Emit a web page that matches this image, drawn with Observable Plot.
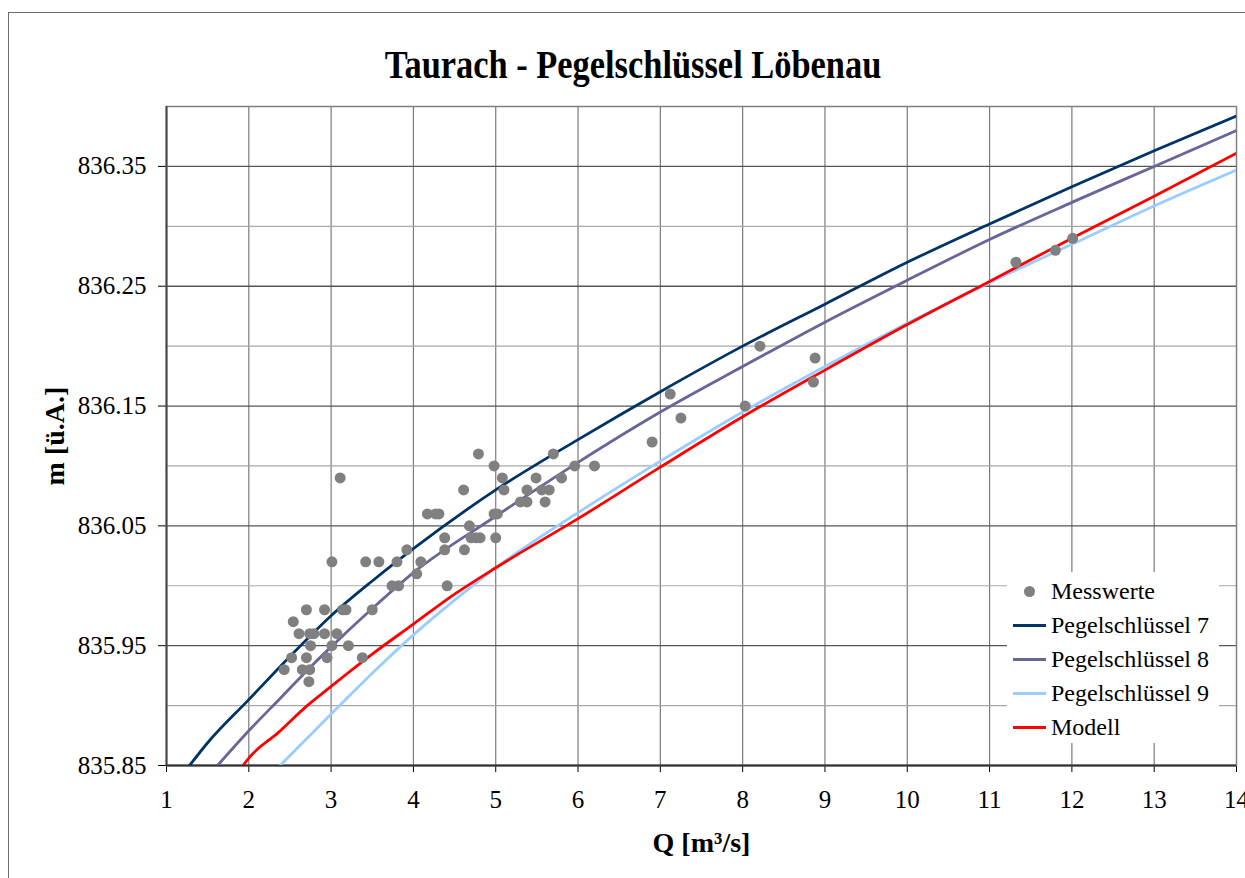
<!DOCTYPE html>
<html>
<head>
<meta charset="utf-8">
<script src="https://cdn.jsdelivr.net/npm/d3@7"></script>
<script src="https://cdn.jsdelivr.net/npm/@observablehq/plot@0.6"></script>
<style>
  body { margin: 0; background: #fff; }
  #wrap { position: relative; width: 1245px; height: 878px; overflow: hidden; background: #fff;
          font-family: "Liberation Serif", "Times New Roman", serif; }
  #border { position: absolute; left: 8px; top: 12px; width: 1400px; height: 1000px;
            border: 1.5px solid #6b6b6b; box-sizing: border-box; }
  #chart { position: absolute; left: 0; top: 0; }
  #title { position: absolute; left: 0; width: 1266px; top: 45px; line-height: 40px; text-align: center;
           font-weight: bold; font-size: 40px; transform: scaleX(0.86); transform-origin: 633px 0; color: #000; white-space: nowrap; }
  #legend { position: absolute; left: 1007px; top: 572px; width: 212px; height: 171px; background: #fff; }
  #legend .row { position: absolute; left: 0; height: 34px; display: flex; align-items: center; font-size: 24px; color: #000; white-space: nowrap; }
  #legend .sym { width: 44px; height: 34px; position: relative; }
  #legend .ln { position: absolute; left: 6px; width: 33px; top: 15.5px; height: 3px; }
  #legend .dt { position: absolute; left: 17px; top: 11.5px; width: 11px; height: 11px; border-radius: 50%; }
  svg text { font-family: "Liberation Serif", "Times New Roman", serif; }
  svg g[aria-label="x-axis label"] text, svg g[aria-label="y-axis label"] text { font-weight: bold; font-size: 28px; }
</style>
</head>
<body>
<div id="wrap">
  <div id="border"></div>
  <div id="chart"></div>
  <div id="title">Taurach - Pegelschlüssel Löbenau</div>
  <div id="legend"></div>
</div>
<script>
// ---- Data ----
const titleText = "Taurach - Pegelschlüssel Löbenau";
const xLabel = "Q [m³/s]";
const yLabel = "m [ü.A.]";
const xTicks = [1, 2, 3, 4, 5, 6, 7, 8, 9, 10, 11, 12, 13, 14];
const yTicks = [835.85, 835.95, 836.05, 836.15, 836.25, 836.35];
const yGridMinor = [835.90, 836.00, 836.10, 836.20, 836.30];

// Messwerte (measured points)
const messQ = [2.43, 2.52, 2.54, 2.61, 2.65, 2.70, 2.70, 2.73, 2.74, 2.74, 2.75, 2.79, 2.92, 2.92, 2.95,
  3.01, 3.01, 3.07, 3.11, 3.14, 3.18, 3.21, 3.38, 3.42, 3.50, 3.58, 3.74, 3.82, 3.80, 3.92,
  4.04, 4.09, 4.17, 4.27, 4.31, 4.38, 4.38, 4.41, 4.61, 4.62, 4.68, 4.70, 4.76, 4.81, 4.79,
  4.98, 4.98, 5.02, 5.00, 5.08, 5.10, 5.30, 5.38, 5.38, 5.49, 5.56, 5.65, 5.60, 5.70, 5.80,
  5.96, 6.20, 6.90, 7.12, 7.25, 8.03, 8.21, 8.86, 8.88, 11.32, 11.80, 12.01];
const messM = [835.93, 835.94, 835.97, 835.96, 835.93, 835.98, 835.94, 835.92, 835.93, 835.96, 835.95, 835.96, 835.98, 835.96, 835.94,
  836.02, 835.95, 835.96, 836.09, 835.98, 835.98, 835.95, 835.94, 836.02, 835.98, 836.02, 836.00, 836.00, 836.02, 836.03,
  836.01, 836.02, 836.06, 836.06, 836.06, 836.04, 836.03, 836.00, 836.08, 836.03, 836.05, 836.04, 836.04, 836.04, 836.11,
  836.10, 836.06, 836.06, 836.04, 836.09, 836.08, 836.07, 836.07, 836.08, 836.09, 836.08, 836.08, 836.07, 836.11, 836.09,
  836.10, 836.10, 836.12, 836.16, 836.14, 836.15, 836.20, 836.17, 836.19, 836.27, 836.28, 836.29];

// Pegelschlüssel 7
const p7Q = [1.28, 1.5, 2, 2.5, 3, 3.5, 4, 5, 6, 7, 8, 9, 10, 11, 12, 13, 14];
const p7M = [835.85, 835.869, 835.905, 835.941, 835.975, 836.004, 836.031, 836.080, 836.122, 836.162, 836.200, 836.235, 836.270, 836.302, 836.333, 836.363, 836.392];
// Pegelschlüssel 8
const p8Q = [1.62, 2, 2.41, 2.79, 3, 3.5, 4, 5, 6, 7, 8, 9, 10, 11, 12, 13, 14];
const p8M = [835.85, 835.879, 835.908, 835.935, 835.949, 835.981, 836.011, 836.058, 836.103, 836.145, 836.183, 836.220, 836.255, 836.289, 836.320, 836.350, 836.380];
// Pegelschlüssel 9
const p9Q = [2.38, 3, 3.5, 4, 4.5, 5, 6, 7, 8, 9, 10, 11, 12, 13, 14];
const p9M = [835.85, 835.893, 835.927, 835.959, 835.988, 836.015, 836.061, 836.104, 836.145, 836.183, 836.219, 836.253, 836.285, 836.317, 836.347];
// Modell
const modQ = [1.93, 2.01, 2.35, 2.71, 3.0, 3.2, 3.5, 4, 4.5, 5, 6, 7, 8, 9, 10, 11, 12, 13, 14];
const modM = [835.85, 835.857, 835.877, 835.900, 835.916, 835.927, 835.943, 835.968, 835.993, 836.015, 836.056, 836.099, 836.141, 836.180, 836.218, 836.254, 836.290, 836.325, 836.361];

const seriesNames = ["Messwerte", "Pegelschlüssel 7", "Pegelschlüssel 8", "Pegelschlüssel 9", "Modell"];
const seriesColors = ["#808080", "#003366", "#666699", "#99ccff", "#ff0000"];

// ---- Build tables ----
const mess = messQ.map((q, i) => ({q, m: messM[i]}));
const curves = [[p7Q, p7M], [p8Q, p8M], [p9Q, p9M], [modQ, modM]]
  .map(([qs, ms]) => qs.map((q, i) => ({q, m: ms[i]})));

const plot = Plot.plot({
  width: 1245,
  height: 878,
  marginLeft: 166,
  marginRight: 9,
  marginTop: 106,
  marginBottom: 113,
  style: {fontFamily: "Liberation Serif, Times New Roman, serif", fontSize: "25px", color: "#000", background: "transparent", overflow: "visible"},
  x: {domain: [1, 14], ticks: xTicks, tickFormat: d => String(d), tickSize: 7, tickPadding: 18,
      label: xLabel, labelArrow: "none", labelAnchor: "center", labelOffset: 86},
  y: {domain: [835.85, 836.40], ticks: yTicks, tickFormat: d => d.toFixed(2), tickSize: 8, tickPadding: 12,
      label: yLabel, labelArrow: "none", labelAnchor: "center", labelOffset: 122},
  marks: [
    Plot.gridX(xTicks.slice(1, -1), {stroke: "#7a7a7a", strokeOpacity: 1, strokeWidth: 1.2}),
    Plot.gridY(yGridMinor, {stroke: "#a8a8a8", strokeOpacity: 1, strokeWidth: 1.2}),
    Plot.gridY(yTicks, {stroke: "#555", strokeOpacity: 1, strokeWidth: 1.3}),
    Plot.frame({stroke: "#808080", strokeWidth: 1.5}),
    Plot.ruleX([1], {stroke: "#444", strokeWidth: 2}),
    Plot.ruleY([835.85], {stroke: "#333", strokeWidth: 2}),
    ...curves.map((data, i) => Plot.line(data, {x: "q", y: "m", stroke: seriesColors[i + 1], strokeWidth: 2.8, curve: "monotone-x", clip: true})),
    Plot.dot(mess, {x: "q", y: "m", r: 5.5, fill: seriesColors[0], stroke: "none"})
  ]
});
document.getElementById("chart").appendChild(plot);
document.getElementById("title").textContent = titleText;

// Legend
const legend = document.getElementById("legend");
seriesNames.forEach((name, i) => {
  const row = document.createElement("div");
  row.className = "row";
  row.style.top = (2 + i * 34) + "px";
  const sym = document.createElement("span");
  sym.className = "sym";
  const s = document.createElement("span");
  s.className = i === 0 ? "dt" : "ln";
  s.style.background = seriesColors[i];
  sym.appendChild(s);
  const t = document.createElement("span");
  t.textContent = name;
  row.appendChild(sym);
  row.appendChild(t);
  legend.appendChild(row);
});
</script>
</body>
</html>
